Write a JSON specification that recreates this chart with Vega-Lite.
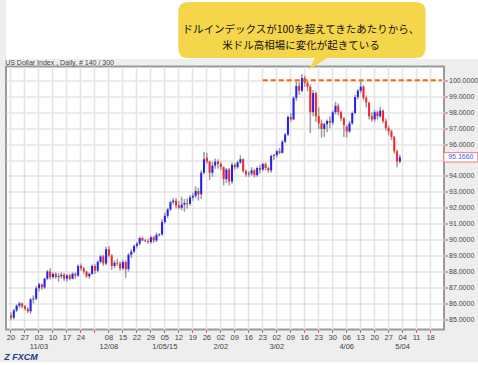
{
  "$schema": "https://vega.github.io/schema/vega-lite/v6.json",
  "background": "#eeeeee",
  "padding": {"left": 4, "top": 0, "right": 0, "bottom": 0},
  "autosize": {"type": "pad"},
  "bounds": "flush",
  "spacing": 7.5,
  "title": {"text": "Z FXCM", "orient": "bottom", "anchor": "start", "offset": 2, "fontSize": 9, "fontStyle": "italic", "fontWeight": "bold", "color": "#1d3b88", "font": "Liberation Sans"},
  "config": {"axis": {"labelFont": "Liberation Sans", "labelOverlap": false}},
  "datasets": {
    "ohlc": [
      {"d":"2014-10-20","o":85.25,"h":85.45,"l":84.95,"c":85.10},
      {"d":"2014-10-21","o":85.10,"h":85.65,"l":85.00,"c":85.55},
      {"d":"2014-10-22","o":85.55,"h":85.95,"l":85.45,"c":85.85},
      {"d":"2014-10-23","o":85.85,"h":86.10,"l":85.70,"c":86.00},
      {"d":"2014-10-24","o":86.00,"h":86.05,"l":85.70,"c":85.80},
      {"d":"2014-10-27","o":85.80,"h":85.90,"l":85.55,"c":85.65},
      {"d":"2014-10-28","o":85.65,"h":85.75,"l":85.40,"c":85.50},
      {"d":"2014-10-29","o":85.50,"h":86.35,"l":85.35,"c":86.25},
      {"d":"2014-10-30","o":86.25,"h":86.50,"l":86.00,"c":86.30},
      {"d":"2014-10-31","o":86.30,"h":87.10,"l":86.20,"c":86.95},
      {"d":"2014-11-03","o":86.95,"h":87.30,"l":86.75,"c":87.20},
      {"d":"2014-11-04","o":87.20,"h":87.25,"l":86.85,"c":87.00},
      {"d":"2014-11-05","o":87.00,"h":87.60,"l":86.90,"c":87.55},
      {"d":"2014-11-06","o":87.55,"h":88.10,"l":87.45,"c":88.00},
      {"d":"2014-11-07","o":88.00,"h":88.20,"l":87.50,"c":87.65},
      {"d":"2014-11-10","o":87.65,"h":87.95,"l":87.55,"c":87.85},
      {"d":"2014-11-11","o":87.85,"h":87.95,"l":87.55,"c":87.65},
      {"d":"2014-11-12","o":87.65,"h":87.90,"l":87.35,"c":87.70},
      {"d":"2014-11-13","o":87.70,"h":87.95,"l":87.55,"c":87.80},
      {"d":"2014-11-14","o":87.80,"h":87.90,"l":87.40,"c":87.55},
      {"d":"2014-11-17","o":87.55,"h":87.85,"l":87.35,"c":87.75},
      {"d":"2014-11-18","o":87.75,"h":87.85,"l":87.45,"c":87.55},
      {"d":"2014-11-19","o":87.55,"h":87.95,"l":87.50,"c":87.85},
      {"d":"2014-11-20","o":87.85,"h":87.95,"l":87.55,"c":87.75},
      {"d":"2014-11-21","o":87.75,"h":88.45,"l":87.65,"c":88.35},
      {"d":"2014-11-24","o":88.35,"h":88.50,"l":88.05,"c":88.20},
      {"d":"2014-11-25","o":88.20,"h":88.30,"l":87.85,"c":88.00},
      {"d":"2014-11-26","o":88.00,"h":88.05,"l":87.60,"c":87.70},
      {"d":"2014-11-27","o":87.70,"h":87.95,"l":87.55,"c":87.85},
      {"d":"2014-11-28","o":87.85,"h":88.45,"l":87.80,"c":88.35},
      {"d":"2014-12-01","o":88.35,"h":88.45,"l":87.85,"c":88.05},
      {"d":"2014-12-02","o":88.05,"h":88.70,"l":87.95,"c":88.60},
      {"d":"2014-12-03","o":88.60,"h":89.05,"l":88.50,"c":88.95},
      {"d":"2014-12-04","o":88.95,"h":89.05,"l":88.35,"c":88.50},
      {"d":"2014-12-05","o":88.50,"h":89.55,"l":88.40,"c":89.40},
      {"d":"2014-12-08","o":89.40,"h":89.60,"l":88.90,"c":89.00},
      {"d":"2014-12-09","o":89.00,"h":89.10,"l":88.10,"c":88.35},
      {"d":"2014-12-10","o":88.35,"h":88.70,"l":88.20,"c":88.55},
      {"d":"2014-12-11","o":88.55,"h":88.80,"l":88.35,"c":88.50},
      {"d":"2014-12-12","o":88.50,"h":88.65,"l":88.05,"c":88.20},
      {"d":"2014-12-15","o":88.20,"h":88.75,"l":88.10,"c":88.60},
      {"d":"2014-12-16","o":88.60,"h":88.70,"l":87.60,"c":88.15},
      {"d":"2014-12-17","o":88.15,"h":89.15,"l":88.00,"c":89.05},
      {"d":"2014-12-18","o":89.05,"h":89.40,"l":88.85,"c":89.25},
      {"d":"2014-12-19","o":89.25,"h":89.70,"l":89.15,"c":89.60},
      {"d":"2014-12-22","o":89.60,"h":89.85,"l":89.45,"c":89.75},
      {"d":"2014-12-23","o":89.75,"h":90.20,"l":89.65,"c":90.10},
      {"d":"2014-12-24","o":90.10,"h":90.20,"l":89.90,"c":89.95},
      {"d":"2014-12-25","o":89.95,"h":90.05,"l":89.85,"c":89.90},
      {"d":"2014-12-26","o":89.90,"h":90.05,"l":89.75,"c":89.85},
      {"d":"2014-12-29","o":89.85,"h":90.25,"l":89.75,"c":90.15},
      {"d":"2014-12-30","o":90.15,"h":90.25,"l":89.80,"c":89.95},
      {"d":"2014-12-31","o":89.95,"h":90.45,"l":89.85,"c":90.30},
      {"d":"2015-01-01","o":90.28,"h":90.40,"l":90.20,"c":90.33},
      {"d":"2015-01-02","o":90.33,"h":91.30,"l":90.25,"c":91.10},
      {"d":"2015-01-05","o":91.10,"h":91.70,"l":91.00,"c":91.50},
      {"d":"2015-01-06","o":91.50,"h":92.00,"l":91.35,"c":91.90},
      {"d":"2015-01-07","o":91.90,"h":92.45,"l":91.80,"c":92.35},
      {"d":"2015-01-08","o":92.35,"h":92.60,"l":92.20,"c":92.45},
      {"d":"2015-01-09","o":92.45,"h":92.60,"l":91.95,"c":92.15},
      {"d":"2015-01-12","o":92.15,"h":92.45,"l":91.90,"c":92.00},
      {"d":"2015-01-13","o":92.00,"h":92.70,"l":91.85,"c":92.20},
      {"d":"2015-01-14","o":92.20,"h":92.55,"l":91.75,"c":92.30},
      {"d":"2015-01-15","o":92.30,"h":92.60,"l":91.95,"c":92.25},
      {"d":"2015-01-16","o":92.25,"h":92.80,"l":92.15,"c":92.65},
      {"d":"2015-01-19","o":92.65,"h":92.95,"l":92.45,"c":92.75},
      {"d":"2015-01-20","o":92.75,"h":93.35,"l":92.60,"c":93.05},
      {"d":"2015-01-21","o":93.05,"h":93.25,"l":92.45,"c":92.85},
      {"d":"2015-01-22","o":92.85,"h":94.35,"l":92.55,"c":94.20},
      {"d":"2015-01-23","o":94.20,"h":95.50,"l":94.10,"c":95.05},
      {"d":"2015-01-26","o":95.15,"h":95.45,"l":94.75,"c":94.90},
      {"d":"2015-01-27","o":94.90,"h":94.95,"l":93.75,"c":94.20},
      {"d":"2015-01-28","o":94.20,"h":94.90,"l":93.95,"c":94.65},
      {"d":"2015-01-29","o":94.65,"h":95.10,"l":94.45,"c":94.90},
      {"d":"2015-01-30","o":94.90,"h":95.05,"l":94.45,"c":94.75},
      {"d":"2015-02-02","o":94.75,"h":94.90,"l":94.35,"c":94.55},
      {"d":"2015-02-03","o":94.55,"h":94.60,"l":93.40,"c":93.80},
      {"d":"2015-02-04","o":93.80,"h":94.50,"l":93.55,"c":94.40},
      {"d":"2015-02-05","o":94.40,"h":94.50,"l":93.40,"c":93.65},
      {"d":"2015-02-06","o":93.65,"h":94.85,"l":93.50,"c":94.70},
      {"d":"2015-02-09","o":94.70,"h":94.80,"l":94.40,"c":94.55},
      {"d":"2015-02-10","o":94.55,"h":94.95,"l":94.45,"c":94.85},
      {"d":"2015-02-11","o":94.85,"h":95.30,"l":94.75,"c":95.05},
      {"d":"2015-02-12","o":95.05,"h":95.10,"l":94.20,"c":94.30},
      {"d":"2015-02-13","o":94.30,"h":94.40,"l":93.95,"c":94.10},
      {"d":"2015-02-16","o":94.10,"h":94.30,"l":93.95,"c":94.15},
      {"d":"2015-02-17","o":94.15,"h":94.55,"l":94.00,"c":94.35},
      {"d":"2015-02-18","o":94.35,"h":94.45,"l":93.90,"c":94.05},
      {"d":"2015-02-19","o":94.05,"h":94.60,"l":93.95,"c":94.50},
      {"d":"2015-02-20","o":94.50,"h":94.70,"l":94.15,"c":94.40},
      {"d":"2015-02-23","o":94.40,"h":94.85,"l":94.30,"c":94.75},
      {"d":"2015-02-24","o":94.75,"h":94.85,"l":94.35,"c":94.50},
      {"d":"2015-02-25","o":94.50,"h":94.60,"l":94.20,"c":94.35},
      {"d":"2015-02-26","o":94.35,"h":95.35,"l":94.20,"c":95.25},
      {"d":"2015-02-27","o":95.25,"h":95.40,"l":95.00,"c":95.30},
      {"d":"2015-03-02","o":95.30,"h":95.65,"l":95.15,"c":95.55},
      {"d":"2015-03-03","o":95.55,"h":95.75,"l":95.35,"c":95.45},
      {"d":"2015-03-04","o":95.45,"h":96.25,"l":95.40,"c":96.15},
      {"d":"2015-03-05","o":96.15,"h":96.70,"l":96.05,"c":96.60},
      {"d":"2015-03-06","o":96.60,"h":97.80,"l":96.50,"c":97.70},
      {"d":"2015-03-09","o":97.70,"h":97.95,"l":97.40,"c":97.55},
      {"d":"2015-03-10","o":97.55,"h":99.00,"l":97.50,"c":98.90},
      {"d":"2015-03-11","o":98.90,"h":99.95,"l":98.70,"c":99.65},
      {"d":"2015-03-12","o":99.65,"h":99.90,"l":99.10,"c":99.35},
      {"d":"2015-03-13","o":99.35,"h":100.40,"l":99.25,"c":100.15},
      {"d":"2015-03-16","o":100.15,"h":100.30,"l":99.60,"c":99.85},
      {"d":"2015-03-17","o":99.85,"h":99.95,"l":99.30,"c":99.60},
      {"d":"2015-03-18","o":99.60,"h":99.75,"l":96.70,"c":98.00},
      {"d":"2015-03-19","o":98.00,"h":99.40,"l":97.75,"c":99.20},
      {"d":"2015-03-20","o":99.20,"h":99.30,"l":97.40,"c":97.75},
      {"d":"2015-03-23","o":97.75,"h":98.30,"l":96.95,"c":97.30},
      {"d":"2015-03-24","o":97.30,"h":97.55,"l":96.40,"c":96.95},
      {"d":"2015-03-25","o":96.95,"h":97.35,"l":96.45,"c":97.25},
      {"d":"2015-03-26","o":97.25,"h":97.55,"l":96.75,"c":97.45},
      {"d":"2015-03-27","o":97.45,"h":97.75,"l":97.00,"c":97.35},
      {"d":"2015-03-30","o":97.35,"h":98.10,"l":97.20,"c":98.00},
      {"d":"2015-03-31","o":98.00,"h":98.65,"l":97.85,"c":98.40},
      {"d":"2015-04-01","o":98.40,"h":98.55,"l":97.80,"c":98.00},
      {"d":"2015-04-02","o":98.00,"h":98.10,"l":97.45,"c":97.60},
      {"d":"2015-04-03","o":97.60,"h":97.70,"l":96.45,"c":97.20},
      {"d":"2015-04-06","o":97.10,"h":97.20,"l":96.40,"c":96.80},
      {"d":"2015-04-07","o":96.80,"h":97.45,"l":96.70,"c":97.30},
      {"d":"2015-04-08","o":97.30,"h":98.05,"l":97.20,"c":97.95},
      {"d":"2015-04-09","o":97.95,"h":99.10,"l":97.85,"c":98.95},
      {"d":"2015-04-10","o":98.95,"h":99.45,"l":98.80,"c":99.35},
      {"d":"2015-04-13","o":99.35,"h":100.05,"l":99.20,"c":99.60},
      {"d":"2015-04-14","o":99.60,"h":99.70,"l":98.75,"c":98.90},
      {"d":"2015-04-15","o":98.90,"h":99.05,"l":98.30,"c":98.60},
      {"d":"2015-04-16","o":98.60,"h":98.65,"l":97.55,"c":97.75},
      {"d":"2015-04-17","o":97.75,"h":98.00,"l":97.40,"c":97.55},
      {"d":"2015-04-20","o":97.55,"h":98.15,"l":97.40,"c":98.00},
      {"d":"2015-04-21","o":98.00,"h":98.10,"l":97.55,"c":97.75},
      {"d":"2015-04-22","o":97.75,"h":98.35,"l":97.65,"c":98.10},
      {"d":"2015-04-23","o":98.10,"h":98.15,"l":97.30,"c":97.45},
      {"d":"2015-04-24","o":97.45,"h":97.60,"l":96.85,"c":97.00},
      {"d":"2015-04-27","o":97.00,"h":97.15,"l":96.55,"c":96.80},
      {"d":"2015-04-28","o":96.80,"h":96.90,"l":96.25,"c":96.45},
      {"d":"2015-04-29","o":96.45,"h":96.50,"l":95.40,"c":95.55},
      {"d":"2015-04-30","o":95.55,"h":95.65,"l":94.55,"c":94.90},
      {"d":"2015-05-01","o":94.90,"h":95.35,"l":94.80,"c":95.166}
    ]
  },
  "vconcat": [
    {
      "width": 474,
      "height": 59,
      "view": {"fill": "white", "stroke": null},
      "data": {"values": [{}]},
      "mark": {"type": "text", "text": ""},
      "encoding": {}
    },
    {
      "width": 438,
      "height": 263,
      "view": {"fill": "white", "stroke": "#9a9a9a", "strokeWidth": 2},
      "layer": [
        {
          "data": {"name": "ohlc"},
          "mark": {"type": "rule", "color": "#9c9c9c", "strokeWidth": 1.5},
          "encoding": {
            "x": {
              "field": "d", "type": "ordinal", "title": null,
              "scale": {
                "type": "band", "paddingInner": 0, "paddingOuter": 0.286,
                "domain": ["2014-10-17","2014-10-20","2014-10-21","2014-10-22","2014-10-23","2014-10-24","2014-10-27","2014-10-28","2014-10-29","2014-10-30","2014-10-31","2014-11-03","2014-11-04","2014-11-05","2014-11-06","2014-11-07","2014-11-10","2014-11-11","2014-11-12","2014-11-13","2014-11-14","2014-11-17","2014-11-18","2014-11-19","2014-11-20","2014-11-21","2014-11-24","2014-11-25","2014-11-26","2014-11-27","2014-11-28","2014-12-01","2014-12-02","2014-12-03","2014-12-04","2014-12-05","2014-12-08","2014-12-09","2014-12-10","2014-12-11","2014-12-12","2014-12-15","2014-12-16","2014-12-17","2014-12-18","2014-12-19","2014-12-22","2014-12-23","2014-12-24","2014-12-25","2014-12-26","2014-12-29","2014-12-30","2014-12-31","2015-01-01","2015-01-02","2015-01-05","2015-01-06","2015-01-07","2015-01-08","2015-01-09","2015-01-12","2015-01-13","2015-01-14","2015-01-15","2015-01-16","2015-01-19","2015-01-20","2015-01-21","2015-01-22","2015-01-23","2015-01-26","2015-01-27","2015-01-28","2015-01-29","2015-01-30","2015-02-02","2015-02-03","2015-02-04","2015-02-05","2015-02-06","2015-02-09","2015-02-10","2015-02-11","2015-02-12","2015-02-13","2015-02-16","2015-02-17","2015-02-18","2015-02-19","2015-02-20","2015-02-23","2015-02-24","2015-02-25","2015-02-26","2015-02-27","2015-03-02","2015-03-03","2015-03-04","2015-03-05","2015-03-06","2015-03-09","2015-03-10","2015-03-11","2015-03-12","2015-03-13","2015-03-16","2015-03-17","2015-03-18","2015-03-19","2015-03-20","2015-03-23","2015-03-24","2015-03-25","2015-03-26","2015-03-27","2015-03-30","2015-03-31","2015-04-01","2015-04-02","2015-04-03","2015-04-06","2015-04-07","2015-04-08","2015-04-09","2015-04-10","2015-04-13","2015-04-14","2015-04-15","2015-04-16","2015-04-17","2015-04-20","2015-04-21","2015-04-22","2015-04-23","2015-04-24","2015-04-27","2015-04-28","2015-04-29","2015-04-30","2015-05-01","2015-05-04","2015-05-05","2015-05-06","2015-05-07","2015-05-08","2015-05-11","2015-05-12","2015-05-13","2015-05-14","2015-05-15","2015-05-18","2015-05-19","2015-05-20","2015-05-21","2015-05-22"]
              },
              "axis": {
                "orient": "bottom", "title": null,
                "values": ["2014-10-20","2014-10-27","2014-11-03","2014-11-10","2014-11-17","2014-11-24","2014-12-01","2014-12-08","2014-12-15","2014-12-22","2014-12-29","2015-01-05","2015-01-12","2015-01-19","2015-01-26","2015-02-02","2015-02-09","2015-02-16","2015-02-23","2015-03-02","2015-03-09","2015-03-16","2015-03-23","2015-03-30","2015-04-06","2015-04-13","2015-04-20","2015-04-27","2015-05-04","2015-05-11","2015-05-18"],
                "labelExpr": "[datum.value == '2014-12-01' ? '' : slice(datum.value, 8, 10), datum.value == '2014-11-03' ? '11/03' : datum.value == '2014-12-08' ? '12/08' : datum.value == '2015-01-05' ? '1/05/15' : datum.value == '2015-02-02' ? '2/02' : datum.value == '2015-03-02' ? '3/02' : datum.value == '2015-04-06' ? '4/06' : datum.value == '2015-05-04' ? '5/04' : '']",
                "domain": false, "tickColor": "#e05a5a", "tickSize": 3, "tickWidth": 1,
                "labelFontSize": 7.5, "labelColor": "#444444", "labelPadding": 1, "labelLineHeight": 9,
                "labelOverlap": false, "labelBound": false, "labelFlush": false, "labelAngle": 0,
                "grid": true, "gridColor": "#e4e4e4", "gridWidth": 1.5, "bandPosition": 0.5
              }
            },
            "y": {
              "field": "l", "type": "quantitative", "title": null,
              "scale": {"domain": [84.36, 100.87], "nice": false, "zero": false},
              "axis": {
                "orient": "right", "title": null,
                "values": [85,86,87,88,89,90,91,92,93,94,95,96,97,98,99,100],
                "tickCount": 20,
                "labelExpr": "datum.value == 95 ? '' : format(datum.value, '.4f')",
                "domain": false, "tickColor": "#e05a5a", "tickSize": 3.5, "tickWidth": 1,
                "labelFontSize": 7, "labelColor": "#444444", "labelPadding": 1,
                "labelOverlap": false, "labelBound": false, "labelFlush": false,
                "grid": true, "gridColor": "#e4e4e4", "gridWidth": 1.5
              }
            },
            "y2": {"field": "h"}
          }
        },
        {
          "data": {"name": "ohlc"},
          "mark": {"type": "bar", "width": 2},
          "encoding": {
            "x": {"field": "d", "type": "ordinal", "title": null},
            "y": {"field": "o", "type": "quantitative", "title": null},
            "y2": {"field": "c"},
            "color": {"condition": {"test": "datum.c >= datum.o", "value": "#1e1eff"}, "value": "#ff2424"}
          }
        },
        {
          "data": {"values": [{}]},
          "mark": {"type": "rule", "color": "#ff6600", "strokeWidth": 2, "strokeDash": [5, 3]},
          "encoding": {
            "x": {"datum": "2015-02-23", "type": "ordinal", "title": null},
            "x2": {"datum": "2015-05-22"},
            "y": {"datum": 100, "type": "quantitative", "title": null}
          }
        },
        {
          "data": {"values": [{}]},
          "mark": {"type": "text", "text": "US Dollar Index , Daily, # 140 / 300", "font": "Liberation Sans", "fontSize": 7, "color": "#444444", "align": "left", "baseline": "middle", "dx": -3},
          "encoding": {
            "x": {"datum": "2014-10-17", "type": "ordinal", "title": null},
            "y": {"datum": 101.1, "type": "quantitative", "title": null}
          }
        },
        {
          "data": {"values": [{}]},
          "mark": {"type": "point", "shape": "M-11.37,-2.8 L11.37,-2.8 Q12.37,-2.8 12.37,-1.8 L12.37,1.8 Q12.37,2.8 11.37,2.8 L2.55,2.8 L0.65,4.0 L1.31,2.8 L-11.37,2.8 Q-12.37,2.8 -12.37,1.8 L-12.37,-1.8 Q-12.37,-2.8 -11.37,-2.8 Z", "size": 400, "filled": true, "fill": "#f5d64b", "strokeWidth": 0, "opacity": 1},
          "encoding": {
            "x": {"datum": "2015-03-13", "type": "ordinal", "title": null},
            "y": {"datum": 103.16, "type": "quantitative", "title": null}
          }
        },
        {
          "data": {"values": [{}]},
          "mark": {"type": "text", "text": ["ドルインデックスが100を超えてきたあたりから、", "米ドル高相場に変化が起きている"], "font": "Noto Sans CJK JP", "fontSize": 10.5, "lineHeight": 16, "color": "#111111", "align": "center", "baseline": "middle", "dx": -1},
          "encoding": {
            "x": {"datum": "2015-03-13", "type": "ordinal", "title": null},
            "y": {"datum": 103.16, "type": "quantitative", "title": null}
          }
        },
        {
          "data": {"values": [{}]},
          "mark": {"type": "point", "shape": "M-1.7,-0.47 L1.7,-0.47 L1.7,0.47 L-1.7,0.47 Z", "size": 400, "filled": true, "fill": "white", "stroke": "#f07a7a", "strokeWidth": 1, "opacity": 1, "xOffset": 19},
          "encoding": {
            "x": {"datum": "2015-05-22", "type": "ordinal", "title": null},
            "y": {"datum": 95.166, "type": "quantitative", "title": null}
          }
        },
        {
          "data": {"values": [{}]},
          "mark": {"type": "text", "text": "95.1660", "font": "Liberation Sans", "fontSize": 7, "color": "#3a5bff", "align": "center", "baseline": "middle", "xOffset": 19},
          "encoding": {
            "x": {"datum": "2015-05-22", "type": "ordinal", "title": null},
            "y": {"datum": 95.166, "type": "quantitative", "title": null}
          }
        }
      ]
    }
  ]
}
